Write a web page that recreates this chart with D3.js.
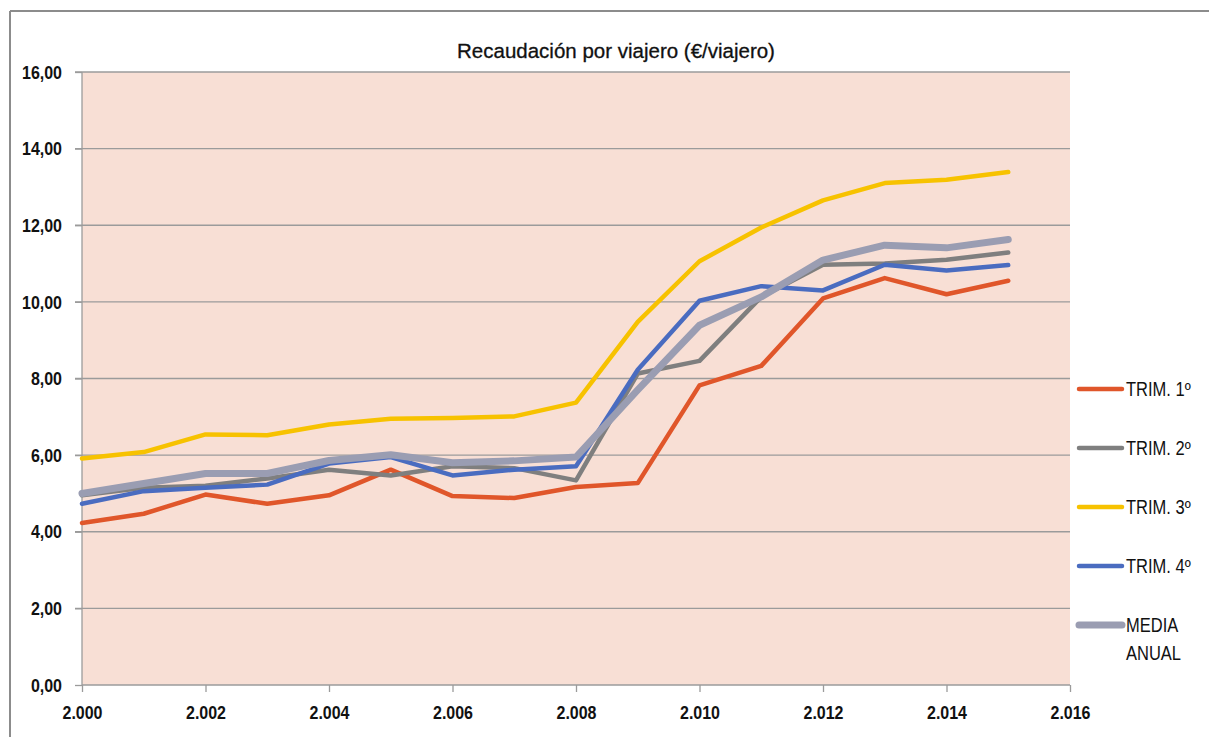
<!DOCTYPE html>
<html><head><meta charset="utf-8">
<script src="https://cdn.jsdelivr.net/npm/d3@7"></script>
<style>body{margin:0;background:#fff}svg{display:block}
.tall{transform-box:fill-box;transform-origin:center;transform:scaleY(1.2)}
</style>
</head><body>
<svg id="c" width="1209" height="737"></svg>
<script>
const years = [2000,2001,2002,2003,2004,2005,2006,2007,2008,2009,2010,2011,2012,2013,2014,2015];
const trim1 = [4.23,4.47,4.97,4.73,4.95,5.62,4.93,4.88,5.17,5.27,7.82,8.33,10.09,10.62,10.20,10.55];
const trim2 = [4.95,5.15,5.20,5.39,5.62,5.47,5.71,5.66,5.34,8.13,8.46,10.13,10.97,11.00,11.10,11.29];
const trim3 = [5.91,6.08,6.54,6.52,6.80,6.95,6.97,7.01,7.37,9.48,11.06,11.94,12.65,13.10,13.19,13.39];
const trim4 = [4.73,5.06,5.15,5.23,5.78,5.95,5.47,5.62,5.71,8.23,10.03,10.41,10.30,10.97,10.82,10.96];
const media = [5.00,5.26,5.52,5.52,5.86,6.01,5.80,5.85,5.95,7.70,9.39,10.13,11.09,11.48,11.41,11.63];
const seriesNames = ["TRIM. 1º","TRIM. 2º","TRIM. 3º","TRIM. 4º","MEDIA ANUAL"];
const xTicks = [2000,2002,2004,2006,2008,2010,2012,2014,2016];
const yTicks = [0,2,4,6,8,10,12,14,16];
const title = "Recaudación por viajero (€/viajero)";

const seriesData = [trim1,trim2,trim3,trim4,media];
const colors = ["#E0562A","#7F7F7F","#F7C200","#4A6CC0","#9A9DB2"];
const widths = [4.5,4.5,4.5,4.5,7];

const svg = d3.select("#c");
const L=82, R=1070, T=72, B=685;
const x = d3.scaleLinear().domain([2000,2016]).range([L,R]);
const y = d3.scaleLinear().domain([0,16]).range([B,T]);
const fmtY = d => d.toFixed(2).replace(".",",");
const fmtX = d => "2." + String(d).slice(1);
const FONT = "Liberation Sans, Arial, sans-serif";

// outer border
svg.append("line").attr("x1",10).attr("x2",1209).attr("y1",11).attr("y2",11).attr("stroke","#8c8c8c").attr("stroke-width",2);
svg.append("line").attr("x1",10).attr("x2",10).attr("y1",11).attr("y2",737).attr("stroke","#8c8c8c").attr("stroke-width",2);

// plot bg
svg.append("rect").attr("x",L).attr("y",T).attr("width",R-L).attr("height",B-T).attr("fill","#F8DFD5");

// gridlines
svg.append("g").selectAll("line").data(yTicks.filter(d=>d>0)).join("line")
  .attr("x1",L-7).attr("x2",R).attr("y1",d=>y(d)).attr("y2",d=>y(d))
  .attr("stroke","#9b9b9b").attr("stroke-width",1.3);

// y axis
const ya = svg.append("g").attr("transform",`translate(${L},0)`)
  .call(d3.axisLeft(y).tickValues(yTicks).tickFormat(fmtY).tickSize(7).tickPadding(13));
ya.select(".domain").attr("stroke","#9b9b9b").attr("stroke-width",1.3).attr("d",`M0,${B}V${T}`);
ya.selectAll(".tick line").attr("stroke","#9b9b9b").attr("stroke-width",1.3);
ya.selectAll("text").attr("class","tall").attr("font-family",FONT).attr("font-size",16).attr("font-weight","bold").attr("fill","#111");

// x axis
const xa = svg.append("g").attr("transform",`translate(0,${B})`)
  .call(d3.axisBottom(x).tickValues(xTicks).tickFormat(fmtX).tickSize(7).tickPadding(15));
xa.select(".domain").attr("stroke","#9b9b9b").attr("stroke-width",1.3).attr("d",`M${L},0H${R}`);
xa.selectAll(".tick line").attr("stroke","#9b9b9b").attr("stroke-width",1.3);
xa.selectAll("text").attr("class","tall").attr("font-family",FONT).attr("font-size",16).attr("font-weight","bold").attr("fill","#111");

// lines
const line = d3.line().x((d,i)=>x(years[i])).y(d=>y(d));
svg.append("g").selectAll("path").data(d3.range(seriesData.length)).join("path")
  .attr("d",i=>line(seriesData[i])).attr("fill","none")
  .attr("stroke",i=>colors[i]).attr("stroke-width",i=>widths[i])
  .attr("stroke-linejoin","round").attr("stroke-linecap","round");

// title
svg.append("text").attr("x",616).attr("y",58).attr("text-anchor","middle")
  .attr("font-family",FONT).attr("font-size",20.5).attr("fill","#111")
  .attr("stroke","#111").attr("stroke-width",0.3)
  .text(title);

// legend
const legY = [389,448,507,566,625];
const lg = svg.append("g");
seriesNames.forEach((n,i)=>{
  lg.append("line").attr("x1",1079).attr("x2",1122).attr("y1",legY[i]).attr("y2",legY[i])
    .attr("stroke",colors[i]).attr("stroke-width",widths[i]).attr("stroke-linecap","round");
  if(n==="MEDIA ANUAL"){
    lg.append("text").attr("class","tall").attr("x",1126).attr("y",legY[i]+6).attr("font-family",FONT).attr("font-size",16.5).attr("fill","#111").text("MEDIA");
    lg.append("text").attr("class","tall").attr("x",1126).attr("y",legY[i]+34).attr("font-family",FONT).attr("font-size",16.5).attr("fill","#111").text("ANUAL");
  } else {
    lg.append("text").attr("class","tall").attr("x",1126).attr("y",legY[i]+6).attr("font-family",FONT).attr("font-size",16.5).attr("fill","#111").text(n);
  }
});
</script>
</body></html>
